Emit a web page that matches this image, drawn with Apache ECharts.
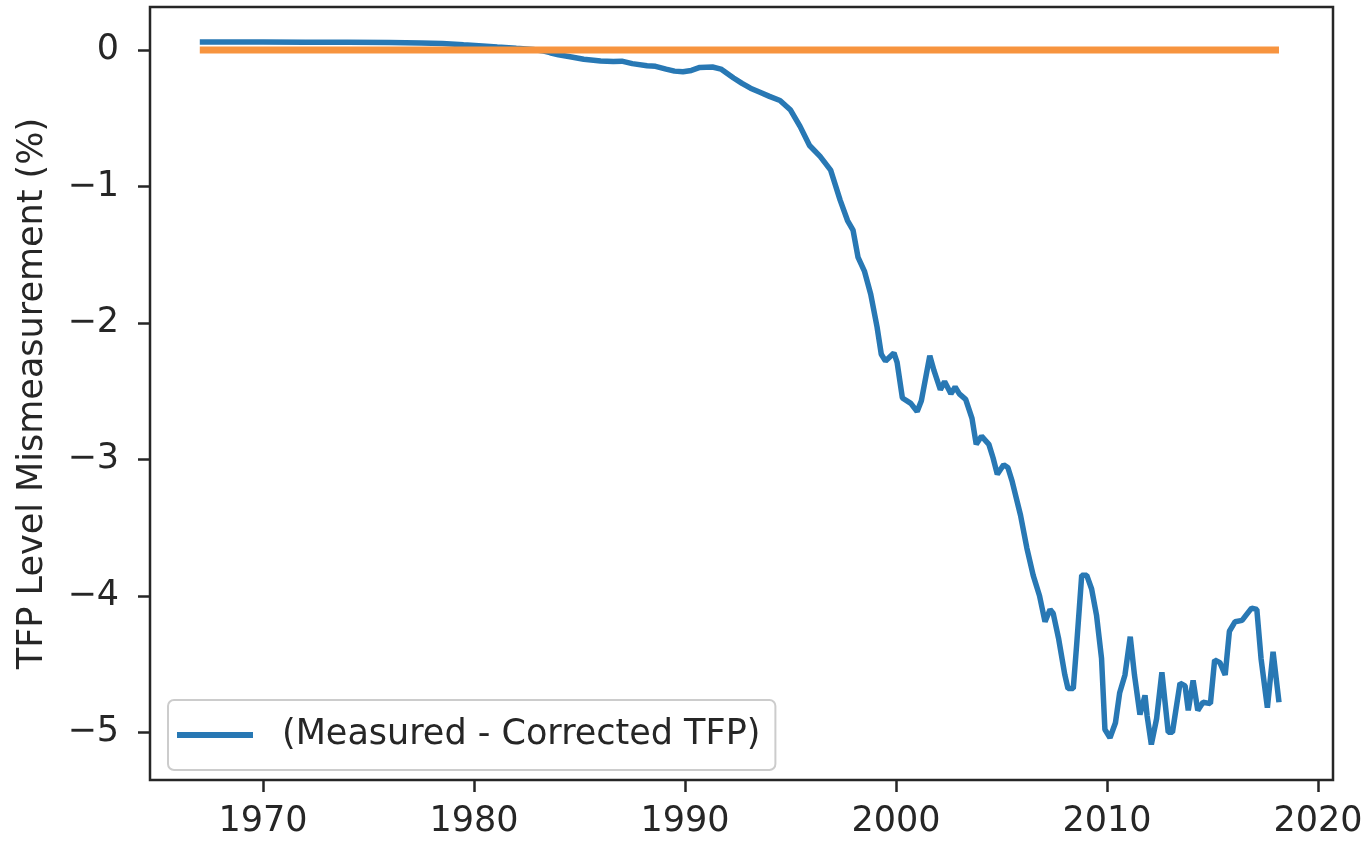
<!DOCTYPE html>
<html>
<head>
<meta charset="utf-8">
<script src="https://cdn.jsdelivr.net/npm/echarts@6/dist/echarts.min.js"></script>
<style>
html,body{margin:0;padding:0;background:#fff;}
#chart{width:1366px;height:841px;}
</style>
</head>
<body>
<div id="chart"></div>
<script>
const years = [1967.0,1968.0,1970.0,1972.0,1974.0,1976.0,1977.5,1978.5,1979.5,1980.4,1981.1,1982.0,1982.8,1983.3,1983.6,1984.0,1984.55,1985.2,1986.0,1986.6,1987.0,1987.5,1988.2,1988.6,1989.1,1989.5,1989.9,1990.3,1990.7,1991.3,1991.7,1992.3,1992.7,1993.1,1993.55,1994.0,1994.5,1995.0,1995.45,1995.9,1996.4,1996.9,1997.35,1997.7,1997.96,1998.2,1998.5,1998.8,1999.1,1999.3,1999.5,1999.9,2000.05,2000.3,2000.7,2001.0,2001.2,2001.6,2001.8,2002.1,2002.3,2002.6,2002.8,2003.0,2003.3,2003.6,2003.8,2004.05,2004.4,2004.6,2004.8,2005.1,2005.3,2005.5,2005.9,2006.2,2006.5,2006.8,2007.06,2007.3,2007.45,2007.7,2008.0,2008.15,2008.4,2008.56,2008.8,2009.04,2009.27,2009.5,2009.74,2009.9,2010.14,2010.4,2010.6,2010.85,2011.1,2011.3,2011.56,2011.8,2011.9,2012.1,2012.35,2012.6,2012.75,2012.9,2013.1,2013.46,2013.7,2013.85,2014.08,2014.3,2014.55,2014.9,2015.1,2015.35,2015.6,2015.8,2016.07,2016.4,2016.6,2016.85,2017.1,2017.3,2017.6,2017.87,2018.15];
const mismeasurement = [0.058,0.058,0.058,0.057,0.056,0.055,0.052,0.047,0.038,0.030,0.022,0.012,0.004,-0.008,-0.02,-0.035,-0.05,-0.068,-0.080,-0.085,-0.082,-0.100,-0.115,-0.120,-0.140,-0.155,-0.160,-0.150,-0.128,-0.125,-0.140,-0.205,-0.245,-0.28,-0.31,-0.34,-0.37,-0.44,-0.56,-0.70,-0.78,-0.88,-1.10,-1.25,-1.32,-1.52,-1.62,-1.79,-2.03,-2.23,-2.28,-2.22,-2.29,-2.55,-2.59,-2.65,-2.57,-2.24,-2.35,-2.49,-2.43,-2.52,-2.47,-2.52,-2.56,-2.70,-2.89,-2.83,-2.89,-2.99,-3.11,-3.04,-3.06,-3.16,-3.41,-3.65,-3.85,-4.00,-4.19,-4.10,-4.13,-4.31,-4.58,-4.68,-4.68,-4.36,-3.85,-3.85,-3.95,-4.14,-4.46,-4.98,-5.04,-4.93,-4.71,-4.58,-4.30,-4.58,-4.87,-4.73,-4.88,-5.09,-4.90,-4.56,-4.78,-5.00,-5.00,-4.64,-4.66,-4.84,-4.62,-4.84,-4.78,-4.79,-4.47,-4.49,-4.58,-4.26,-4.19,-4.18,-4.14,-4.09,-4.10,-4.46,-4.82,-4.41,-4.78];
const zeroYears = [1967.0, 2018.15];
const zeroValues = [0, 0];
const xTicks = [1970, 1980, 1990, 2000, 2010, 2020];
const yTicks = [0, -1, -2, -3, -4, -5];
const seriesName = '(Measured - Corrected TFP)';
const yName = 'TFP Level Mismeasurement (%)';

const FONT = 'DejaVu Sans';
const TXT = '#262626';
const chart = echarts.init(document.getElementById('chart'), null, {renderer: 'canvas'});
chart.setOption({
  animation: false,
  backgroundColor: '#ffffff',
  grid: {left: 150, right: 33, top: 7, bottom: 61, show: true, borderColor: TXT, borderWidth: 2.5, backgroundColor: 'transparent'},
  legend: {
    data: [seriesName],
    left: 168, top: 700,
    backgroundColor: 'rgba(255,255,255,0.8)',
    borderColor: '#cccccc', borderWidth: 2, borderRadius: 6,
    padding: [13, 15, 13, 9],
    icon: 'rect', itemWidth: 76, itemHeight: 6,
    textStyle: {fontFamily: FONT, fontSize: 35, color: TXT, padding: [8, 0, 0, 24], lineHeight: 36}
  },
  xAxis: {
    type: 'value', min: 1964.64, max: 2020.71,
    axisLine: {show: false, onZero: false},
    splitLine: {show: false},
    axisTick: {show: true, length: 12, customValues: xTicks, lineStyle: {color: TXT, width: 2.5}},
    axisLabel: {customValues: xTicks, fontFamily: FONT, fontSize: 35, color: TXT, margin: 24,
      formatter: v => String(v)}
  },
  yAxis: {
    type: 'value', min: -5.35, max: 0.315,
    name: yName, nameLocation: 'middle', nameGap: 100, nameRotate: 90,
    nameTextStyle: {fontFamily: FONT, fontSize: 35, color: TXT},
    axisLine: {show: false, onZero: false},
    splitLine: {show: false},
    axisTick: {show: true, length: 12, customValues: yTicks, lineStyle: {color: TXT, width: 2.5}},
    axisLabel: {customValues: yTicks, fontFamily: FONT, fontSize: 35, color: TXT, margin: 31,
      formatter: v => (v < 0 ? '\u2212' : '') + Math.abs(v)}
  },
  series: [
    {name: seriesName, type: 'line', showSymbol: false, symbol: 'none',
     data: years.map((y, i) => [y, mismeasurement[i]]),
     lineStyle: {color: '#2878b4', width: 5.5}, itemStyle: {color: '#2878b4'}, z: 2},
    {name: 'zero', type: 'line', showSymbol: false, symbol: 'none',
     data: zeroYears.map((y, i) => [y, zeroValues[i]]),
     lineStyle: {color: '#f7943f', width: 7}, itemStyle: {color: '#f7943f'}, z: 3}
  ]
});
</script>
</body>
</html>
